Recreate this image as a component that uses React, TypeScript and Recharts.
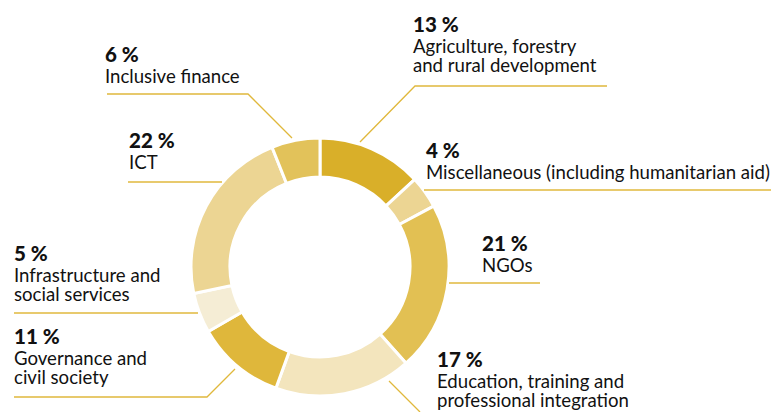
import { PieChart, Pie, Cell } from "recharts";

const sectors = [
  "Agriculture, forestry|and rural development",
  "Miscellaneous (including humanitarian aid)",
  "NGOs",
  "Education, training and|professional integration",
  "Governance and|civil society",
  "Infrastructure and|social services",
  "ICT",
  "Inclusive finance",
];
const shares = [13, 4, 21, 17, 11, 5, 22, 6];
const colors = ["#d9af29", "#ecd593", "#e2c053", "#f3e5bd", "#dfb73b", "#f5edd5", "#ecd593", "#e2c25a"];

// label placement: text origin (x, first baseline) and leader polyline
const labelLayout = [
  { x: 413, y: 32, line: [[360, 142], [415, 86], [607, 86]] },
  { x: 426, y: 158, line: [[424, 190], [771, 190]] },
  { x: 482, y: 251, line: [[449, 283], [540, 283]] },
  { x: 437, y: 367, line: [[389, 381], [420, 412]] },
  { x: 14, y: 344, line: [[235, 369], [207, 397], [14, 397]] },
  { x: 14, y: 261, line: [[198, 313], [14, 313]] },
  { x: 129, y: 148, line: [[222, 182], [128, 182]] },
  { x: 105, y: 62, line: [[292, 138], [248, 94], [107, 94]] },
];

const data = sectors.map((name, i) => ({ name, value: shares[i] }));

const FONT = "Lato, 'Noto Sans', sans-serif";

function renderLabel(props: any) {
  const i = props.index;
  const l = labelLayout[i];
  const lines = sectors[i].split("|");
  return (
    <g key={i}>
      <polyline
        points={l.line.map((p) => p.join(",")).join(" ")}
        fill="none"
        stroke="#e0b83c"
        strokeWidth={1.3}
      />
      <text x={l.x} y={l.y} fontFamily={FONT} fontSize={20.5} fontWeight={900} fill="#111">
        {shares[i]} %
      </text>
      {lines.map((t, k) => (
        <text key={k} x={l.x} y={l.y + 21 + k * 19} fontFamily={FONT} fontSize={18.6} fill="#111">
          {t}
        </text>
      ))}
    </g>
  );
}

export default function App() {
  return (
    <div style={{ position: "absolute", left: 0, top: 0, width: 776, height: 412, background: "#fff" }}>
      <PieChart width={776} height={412} margin={{ top: 0, right: 0, bottom: 0, left: 0 }}>
        <Pie
          data={data}
          dataKey="value"
          cx={320}
          cy={267}
          innerRadius={90}
          outerRadius={129}
          startAngle={90}
          endAngle={-270}
          stroke="#fff"
          strokeWidth={3}
          labelLine={false}
          label={renderLabel}
          isAnimationActive={false}
        >
          {data.map((_, i) => (
            <Cell key={i} fill={colors[i]} />
          ))}
        </Pie>
      </PieChart>
    </div>
  );
}
